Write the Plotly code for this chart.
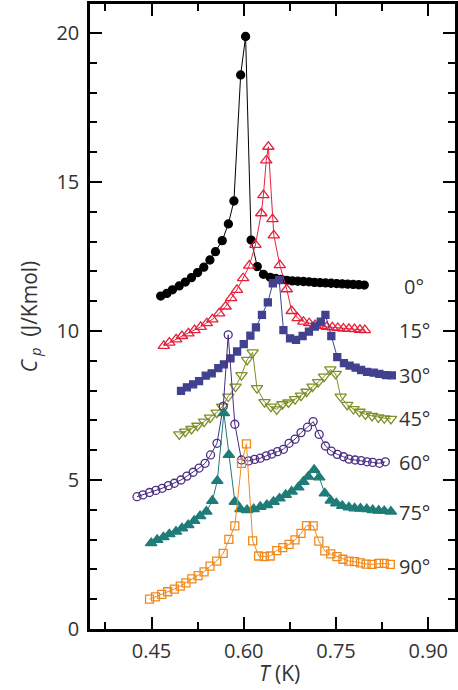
import plotly.graph_objects as go

# ---- data (T in K, Cp in J/K mol) ----
t_0 = [0.465, 0.475, 0.484, 0.495, 0.505, 0.515, 0.525, 0.535, 0.545, 0.554, 0.565, 0.575, 0.584, 0.595, 0.603,
       0.612, 0.622, 0.632, 0.643, 0.652, 0.661, 0.670, 0.679, 0.688, 0.697, 0.706, 0.715, 0.724, 0.733, 0.742,
       0.751, 0.760, 0.769, 0.778, 0.787, 0.796]
cp_0 = [11.17, 11.26, 11.38, 11.51, 11.64, 11.79, 11.96, 12.14, 12.38, 12.66, 13.03, 13.59, 14.36, 18.59, 19.88,
        13.05, 12.16, 11.90, 11.80, 11.76, 11.73, 11.70, 11.68, 11.67, 11.66, 11.65, 11.63, 11.62, 11.61, 11.60,
        11.59, 11.58, 11.57, 11.56, 11.55, 11.54]

t_15 = [0.470, 0.479, 0.490, 0.4995, 0.510, 0.520, 0.530, 0.540, 0.549, 0.560, 0.5705, 0.5796, 0.589, 0.599, 0.609,
        0.619, 0.6285, 0.632, 0.6366, 0.640, 0.6468, 0.6489, 0.6586, 0.6699, 0.678, 0.6876, 0.697, 0.7065, 0.716,
        0.726, 0.735, 0.744, 0.753, 0.762, 0.771, 0.780, 0.789, 0.797]
cp_15 = [9.50, 9.61, 9.72, 9.83, 9.92, 10.03, 10.14, 10.26, 10.39, 10.59, 10.82, 11.10, 11.38, 11.77, 12.19,
         12.89, 13.95, 14.56, 15.72, 16.18, 13.75, 13.21, 12.21, 11.40, 10.67, 10.43, 10.31, 10.26, 10.20,
         10.17, 10.14, 10.12, 10.10, 10.08, 10.07, 10.06, 10.04, 10.03]

t_30 = [0.498, 0.5075, 0.5177, 0.5274, 0.5382, 0.5479, 0.5586, 0.5677, 0.5785, 0.5892, 0.600, 0.6108, 0.6198,
        0.6296, 0.6392, 0.6473, 0.6576, 0.6645, 0.6753, 0.685, 0.6957, 0.706, 0.7157, 0.7253, 0.7328, 0.7424,
        0.7521, 0.7629, 0.7721, 0.7818, 0.7908, 0.8005, 0.8113, 0.8205, 0.8312, 0.8408]
cp_30 = [7.99, 8.11, 8.21, 8.32, 8.50, 8.58, 8.75, 8.88, 9.08, 9.31, 9.56, 9.84, 10.12, 10.54, 10.96, 11.60, 11.71,
         10.03, 9.75, 9.70, 9.83, 9.98, 10.15, 10.31, 10.54, 9.83, 9.12, 8.92, 8.84, 8.77, 8.69, 8.63, 8.60, 8.56,
         8.52, 8.51]

t_45 = [0.4952, 0.5048, 0.515, 0.5247, 0.5355, 0.5452, 0.556, 0.565, 0.5747, 0.5866, 0.5963, 0.6054, 0.6145,
        0.6215, 0.6339, 0.6441, 0.6537, 0.6629, 0.6726, 0.6834, 0.6931, 0.7021, 0.7118, 0.721, 0.7306, 0.7408,
        0.7495, 0.7576, 0.7682, 0.7785, 0.7882, 0.7979, 0.8086, 0.8189, 0.8285, 0.8393]
cp_45 = [6.53, 6.62, 6.71, 6.82, 6.96, 7.09, 7.26, 7.46, 7.80, 8.13, 8.52, 9.03, 9.28, 8.08, 7.61, 7.46, 7.37, 7.54,
         7.60, 7.71, 7.83, 7.96, 8.13, 8.28, 8.47, 8.71, 8.56, 7.80, 7.52, 7.38, 7.29, 7.20, 7.15, 7.10, 7.07, 7.05]

t_60 = [0.4264, 0.436, 0.4468, 0.4571, 0.4673, 0.4774, 0.4871, 0.4979, 0.5076, 0.5177, 0.5274, 0.5371, 0.5460,
        0.5565, 0.5667, 0.5747, 0.5855, 0.5963, 0.608, 0.6177, 0.6269, 0.6366, 0.6457, 0.6548, 0.6645, 0.6737,
        0.6834, 0.6931, 0.7037, 0.7129, 0.7226, 0.7328, 0.7424, 0.7521, 0.7624, 0.771, 0.7811, 0.7908, 0.8005,
        0.8097, 0.8205, 0.8302]
cp_60 = [4.44, 4.50, 4.58, 4.65, 4.72, 4.81, 4.89, 5.00, 5.13, 5.26, 5.40, 5.56, 5.84, 6.23, 7.47, 9.87, 6.87, 5.67,
         5.64, 5.69, 5.73, 5.81, 5.87, 5.95, 6.03, 6.23, 6.37, 6.59, 6.77, 6.96, 6.53, 6.14, 5.97, 5.86, 5.78, 5.70,
         5.67, 5.65, 5.61, 5.59, 5.56, 5.61]

t_75 = [0.4495, 0.4592, 0.4694, 0.479, 0.4898, 0.4995, 0.5097, 0.5194, 0.529, 0.5392, 0.5489, 0.557, 0.5677,
        0.5758, 0.5855, 0.5947, 0.6054, 0.6161, 0.6269, 0.6376, 0.6484, 0.6581, 0.6682, 0.6779, 0.6887, 0.6968,
        0.7048, 0.7145, 0.7226, 0.7318, 0.7415, 0.7505, 0.7602, 0.771, 0.7802, 0.7898, 0.8, 0.8097, 0.8194,
        0.8285, 0.8392]
cp_75 = [2.88, 2.99, 3.08, 3.18, 3.27, 3.38, 3.49, 3.63, 3.79, 3.94, 4.30, 4.97, 7.24, 5.84, 4.27, 4.02, 3.99, 4.02,
         4.10, 4.16, 4.27, 4.38, 4.50, 4.61, 4.75, 4.94, 5.11, 5.34, 5.09, 4.55, 4.31, 4.22, 4.13, 4.08, 4.05, 4.04,
         4.02, 3.99, 3.97, 3.96, 3.94]

t_90 = [0.4468, 0.4565, 0.4666, 0.4763, 0.4871, 0.4968, 0.506, 0.5156, 0.5258, 0.5355, 0.5452, 0.556, 0.5666,
        0.5758, 0.5855, 0.5963, 0.6044, 0.6145, 0.6242, 0.6334, 0.643, 0.6537, 0.6634, 0.6737, 0.6834, 0.6931,
        0.7021, 0.7129, 0.7221, 0.7318, 0.7415, 0.7516, 0.7613, 0.771, 0.7802, 0.7898, 0.7989, 0.8086, 0.8194,
        0.8285, 0.8382]
cp_90 = [1.00, 1.08, 1.16, 1.25, 1.34, 1.44, 1.55, 1.68, 1.79, 1.92, 2.11, 2.28, 2.54, 3.01, 3.46, 5.56, 6.21, 2.96,
         2.45, 2.43, 2.45, 2.63, 2.73, 2.84, 2.99, 3.21, 3.47, 3.46, 2.95, 2.62, 2.52, 2.43, 2.34, 2.28, 2.26, 2.22,
         2.18, 2.17, 2.20, 2.20, 2.17]

angle_labels = ["0°", "15°", "30°", "45°", "60°", "75°", "90°"]
label_y = [11.48, 10.03, 8.49, 7.05, 5.60, 3.90, 2.11]

x_ticks = [0.45, 0.60, 0.75, 0.90]
y_ticks = [0, 5, 10, 15, 20]

series = [
    (t_0, cp_0, "#000000", "circle", 8),
    (t_15, cp_15, "#e6203c", "triangle-up-open", 10),
    (t_30, cp_30, "#41418f", "square", 7),
    (t_45, cp_45, "#7f8f26", "triangle-down-open", 10),
    (t_60, cp_60, "#4a2c82", "circle-open", 8),
    (t_75, cp_75, "#1f7c78", "triangle-up", 10),
    (t_90, cp_90, "#f08a1c", "square-open", 8),
]

fig = go.Figure()
for (tx, cy, col, sym, sz), name in zip(series, angle_labels):
    fig.add_trace(go.Scatter(
        x=tx, y=cy, mode="lines+markers", name=name,
        line=dict(color=col, width=1),
        marker=dict(symbol=sym, size=sz, color=col, line=dict(color=col, width=1.3)),
        showlegend=False,
    ))

font_col = "#333333"
for lab, ly in zip(angle_labels, label_y):
    fig.add_annotation(x=0.877, y=ly, text=lab, showarrow=False, xanchor="center", yanchor="middle",
                       font=dict(size=20, color=font_col, family="Open Sans"))

# x-axis title as a paper-positioned annotation
fig.add_annotation(xref="paper", yref="paper", x=0.52, y=-0.071, text="<i>T</i> (K)", showarrow=False,
                   xanchor="center", yanchor="middle", borderpad=0,
                   font=dict(size=21, color=font_col, family="Open Sans"))

axis_common = dict(
    showline=True, linecolor="black", linewidth=2.5, mirror="ticks",
    ticks="inside", ticklen=12, tickwidth=2, tickcolor="black",
    showgrid=False, zeroline=False,
    tickfont=dict(size=20, color=font_col, family="Open Sans"),
)

fig.update_layout(
    width=458, height=690,
    margin=dict(l=90, r=0, t=4, b=61),
    plot_bgcolor="white", paper_bgcolor="white",
    xaxis=dict(range=[0.35, 0.9435], tickvals=x_ticks, ticktext=[f"{v:.2f}" for v in x_ticks],
               minor=dict(dtick=0.075, tick0=0.375, ticks="inside", ticklen=7, tickwidth=2, tickcolor="black"),
               ticklabelstandoff=2,
               **axis_common),
    yaxis=dict(range=[0, 20.97], tickvals=y_ticks,
               minor=dict(dtick=1, ticks="inside", ticklen=7, tickwidth=2, tickcolor="black"),
               title=dict(text="<i>C</i><sub>&nbsp;<i>p</i></sub>&nbsp;&nbsp;(J/Kmol)",
                          font=dict(size=21, color=font_col, family="Open Sans"), standoff=14),
               ticklabelstandoff=4,
               **axis_common),
)

fig.write_html("out.html")
